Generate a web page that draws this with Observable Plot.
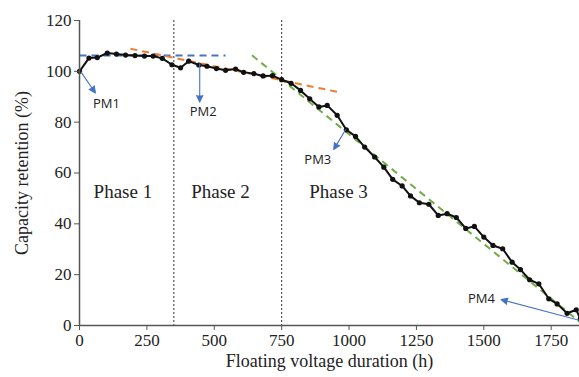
<!DOCTYPE html>
<html>
<head>
<meta charset="utf-8">
<script src="https://cdn.jsdelivr.net/npm/d3@7"></script>
<script src="https://cdn.jsdelivr.net/npm/@observablehq/plot@0.6"></script>
<style>
  html, body { margin: 0; padding: 0; background: #fff; }
  #chart { width: 579px; height: 377px; }
</style>
</head>
<body>
<div id="chart"></div>
<script>
// Measured capacity retention vs floating voltage duration
const hours = [0, 35, 66, 103, 137, 171, 206, 241, 273, 307, 343, 375, 405, 443, 473, 508, 542, 579, 609, 647, 681, 716, 750, 785, 820, 854, 888, 919, 956, 990, 1024, 1058, 1095, 1129, 1162, 1197, 1228, 1261, 1296, 1331, 1364, 1398, 1433, 1465, 1500, 1534, 1570, 1605, 1636, 1670, 1704, 1741, 1772, 1809, 1843, 1858];
const retention = [100, 105.2, 105.4, 107.2, 106.8, 106.4, 106.2, 106.0, 106.0, 105.1, 102.6, 101.4, 104.0, 102.5, 102.0, 101.1, 100.4, 100.9, 99.6, 99.1, 98.2, 98.3, 96.7, 95.3, 92.5, 89.2, 86.0, 86.6, 82.7, 77.0, 74.4, 70.2, 66.3, 62.3, 57.5, 54.9, 51.0, 48.3, 47.7, 43.3, 44.0, 42.5, 38.2, 39.0, 34.8, 31.5, 30.2, 24.9, 22.0, 18.0, 16.4, 10.5, 8.5, 4.8, 6.2, 2.6];

// Trend (fit) lines: [x1, y1, x2, y2]
const fitNames = ["phase1", "phase2", "phase3"];
const fitX1 = [0, 189, 640];
const fitY1 = [106.2, 108.9, 106.3];
const fitX2 = [542, 962, 1855];
const fitY2 = [106.2, 91.8, 1.5];
const fitColors = ["#4472C4", "#ED7D31", "#70AD47"];

// Phase boundaries
const boundaries = [350, 750];
const phaseLabels = ["Phase 1", "Phase 2", "Phase 3"];
const phaseX = [161, 523, 961];
const phaseY = [52.5, 52.5, 52.5];

// PM annotations
const pmLabels = ["PM1", "PM2", "PM3", "PM4"];
const pmFromX = [6, 446, 987, 1855];
const pmFromY = [99.7, 103, 77, 2];
const pmToX = [59, 446, 943, 1564];
const pmToY = [91.5, 87.9, 69.2, 10.2];
const pmTextX = [100, 459, 884, 1491];
const pmTextY = [87.4, 84, 65, 10.6];

const xTicks = [0, 250, 500, 750, 1000, 1250, 1500, 1750];
const yTicks = [0, 20, 40, 60, 80, 100, 120];

const series = hours.map((h, i) => ({h, r: retention[i]}));
const fits = fitNames.map((n, i) => ({n, x1: fitX1[i], y1: fitY1[i], x2: fitX2[i], y2: fitY2[i], c: fitColors[i]}));
const phases = phaseLabels.map((t, i) => ({t, x: phaseX[i], y: phaseY[i]}));
const pms = pmLabels.map((t, i) => ({t, x1: pmFromX[i], y1: pmFromY[i], x2: pmToX[i], y2: pmToY[i], tx: pmTextX[i], ty: pmTextY[i]}));

const serif = "'Liberation Serif', 'Times New Roman', serif";
const chart = Plot.plot({
  width: 579,
  height: 377,
  marginLeft: 79,
  marginRight: 0,
  marginTop: 20,
  marginBottom: 52,
  style: {fontFamily: serif, fontSize: "17px", color: "#222", background: "#fff"},
  x: {domain: [0, 1855]},
  y: {domain: [0, 120]},
  marks: [
    Plot.ruleX(boundaries, {stroke: "#333", strokeWidth: 1, strokeDasharray: "2,2"}),
    ...fits.map(f => Plot.link([f], {x1: "x1", y1: "y1", x2: "x2", y2: "y2", stroke: f.c, strokeWidth: 2, strokeDasharray: "7,5"})),
    Plot.line(series, {x: "h", y: "r", stroke: "#111", strokeWidth: 2}),
    Plot.dot(series, {x: "h", y: "r", fill: "#111", r: 2.6}),
    Plot.arrow(pms, {x1: "x1", y1: "y1", x2: "x2", y2: "y2", stroke: "#4472C4", fill: "#4472C4", strokeWidth: 1.1, headLength: 10, headAngle: 50}),
    Plot.text(pms, {x: "tx", y: "ty", text: "t", fontFamily: "'Open Sans', 'Liberation Sans', sans-serif", fontSize: 13, fill: "#222"}),
    Plot.text(phases, {x: "x", y: "y", text: "t", fontFamily: serif, fontSize: 19, fill: "#222"}),
    Plot.ruleX([0], {stroke: "#555", strokeWidth: 1.5}),
    Plot.ruleY([0], {stroke: "#555", strokeWidth: 1.5}),
    Plot.axisX({ticks: xTicks, tickFormat: d => String(d), tickSize: 5, tickPadding: 3, stroke: "#555", fontSize: 17, fontFamily: serif, label: null}),
    Plot.axisY({ticks: yTicks, tickFormat: d => String(d), tickSize: 5, tickPadding: 3, stroke: "#555", fontSize: 17, fontFamily: serif, label: null}),
    Plot.axisX({ticks: [], label: "Floating voltage duration (h)", labelArrow: "none", labelAnchor: "center", labelOffset: 41, fontSize: 18, fontFamily: serif}),
    Plot.axisY({ticks: [], label: "Capacity retention (%)", labelArrow: "none", labelAnchor: "center", labelOffset: 64, fontSize: 18, fontFamily: serif})
  ]
});
document.getElementById("chart").appendChild(chart);
</script>
</body>
</html>
